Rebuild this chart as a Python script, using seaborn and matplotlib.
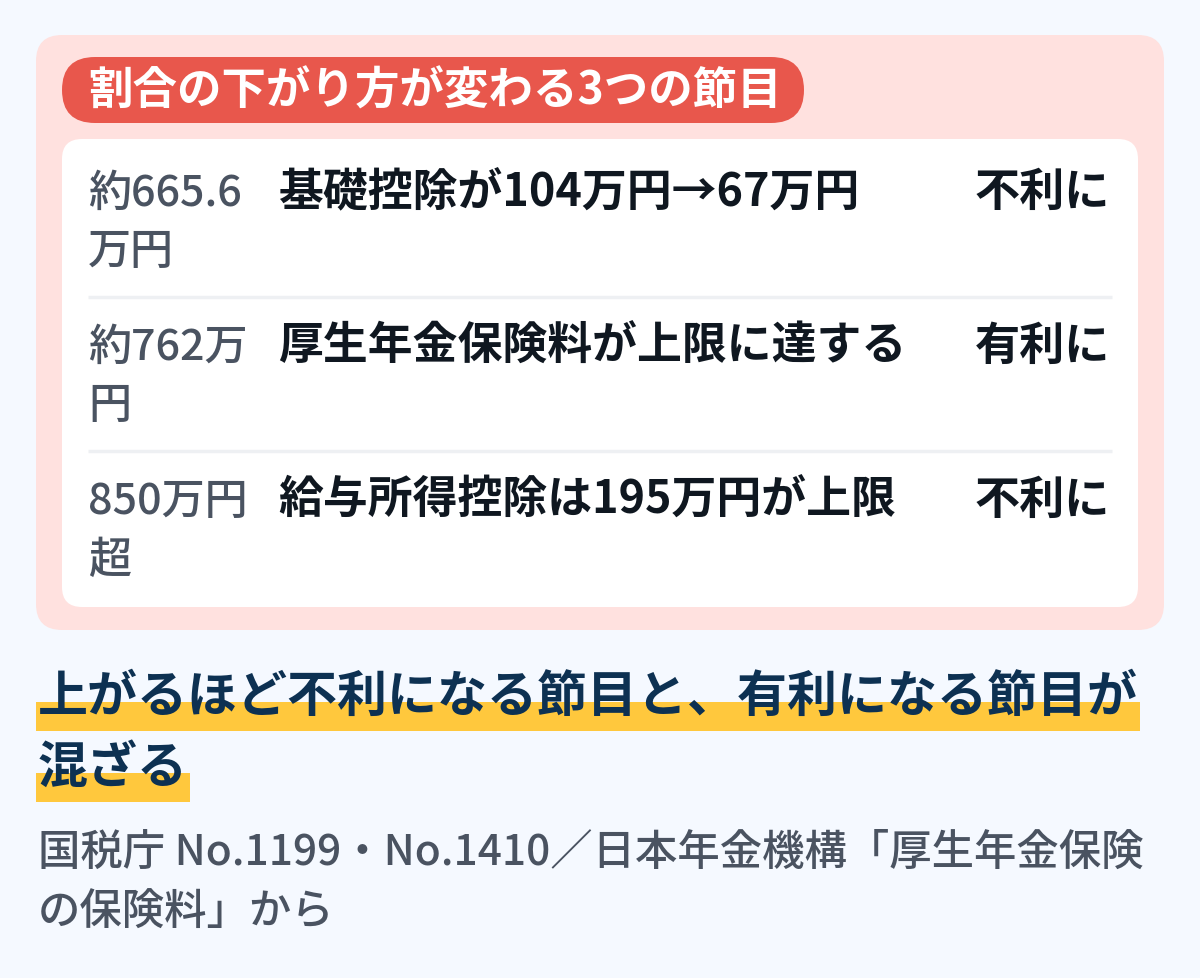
import matplotlib
matplotlib.use("Agg")
import matplotlib.pyplot as plt
import seaborn as sns
from matplotlib.patches import FancyBboxPatch, Rectangle

sns.set_theme(style="white")
plt.rcParams['font.family'] = ['Noto Sans CJK JP', 'DejaVu Sans']

# ---- data ----
title = "割合の下がり方が変わる3つの節目"
thresholds = ["約665.6\n万円", "約762万\n円", "850万円\n超"]
events = ["基礎控除が104万円→67万円", "厚生年金保険料が上限に達する", "給与所得控除は195万円が上限"]
effects = ["不利に", "有利に", "不利に"]
headline = ["上がるほど不利になる節目と、有利になる節目が", "混ざる"]
source = ["国税庁 No.1199・No.1410／日本年金機構「厚生年金保険", "の保険料」から"]

# ---- colors ----
BG = "#F5F9FF"
PINK = "#FFE1DF"
RED = "#E8574C"
YELLOW = "#FFC83D"
NAVY = "#0D3152"
GRAY = "#4A5361"
DARK = "#0F1720"
SEP = "#EEF0F3"

W, H = 1200, 979
fig = plt.figure(figsize=(W / 100, H / 100), dpi=100, facecolor=BG)
ax = fig.add_axes([0, 0, 1, 1])
ax.set_xlim(0, W)
ax.set_ylim(H, 0)
ax.axis("off")
ax.set_facecolor(BG)

def rbox(x0, y0, x1, y1, r, color, z=1):
    p = FancyBboxPatch((x0, y0), x1 - x0, y1 - y0,
                       boxstyle=f"round,pad=0,rounding_size={r}",
                       fc=color, ec="none", zorder=z)
    ax.add_patch(p)

# outer pink card
rbox(36, 36, 1164, 631, 26, PINK, 1)
# red pill title
rbox(62, 58, 804, 124, 33, RED, 2)
ax.text(88, 92, title, color="white", fontsize=32, fontweight="bold",
        va="center", ha="left", zorder=3)
# white panel
rbox(62, 140, 1138, 608, 20, "white", 2)

row_top = 193
row_step = 154
line_gap = 59
for i, (th, ev, ef) in enumerate(zip(thresholds, events, effects)):
    y = row_top + i * row_step
    for j, part in enumerate(th.split("\n")):
        ax.text(88, y + j * line_gap, part, color=GRAY, fontsize=31,
                fontweight="medium", va="center", ha="left", zorder=3)
    ax.text(278, y, ev, color=DARK, fontsize=32.3, fontweight="bold",
            va="center", ha="left", zorder=3)
    ax.text(1110, y, ef, color=DARK, fontsize=32.5, fontweight="bold",
            va="center", ha="right", zorder=3)
    if i < len(thresholds) - 1:
        ax.plot([88, 1112], [y + 105, y + 105], color=SEP, lw=2.5,
                solid_capstyle="butt", zorder=3)

# headline with highlight
fig.canvas.draw()
renderer = fig.canvas.get_renderer()
inv = ax.transData.inverted()
head_y = [697, 768]
for k, (line, hy) in enumerate(zip(headline, head_y)):
    t = ax.text(38, hy, line, color=NAVY, fontsize=36, fontweight="bold",
                va="center", ha="left", zorder=4)
    bb = t.get_window_extent(renderer)
    (x0, _), (x1, _) = inv.transform([[bb.x0, bb.y0], [bb.x1, bb.y1]])
    ax.add_patch(Rectangle((36, hy + 6), (x1 + 2) - 36, 29,
                           fc=YELLOW, ec="none", zorder=3))

src_y = [852, 912]
for line, sy in zip(source, src_y):
    ax.text(38, sy, line, color=GRAY, fontsize=30.5, fontweight="medium",
            va="center", ha="left", zorder=3)

fig.savefig("out.png", dpi=100, facecolor=BG)
